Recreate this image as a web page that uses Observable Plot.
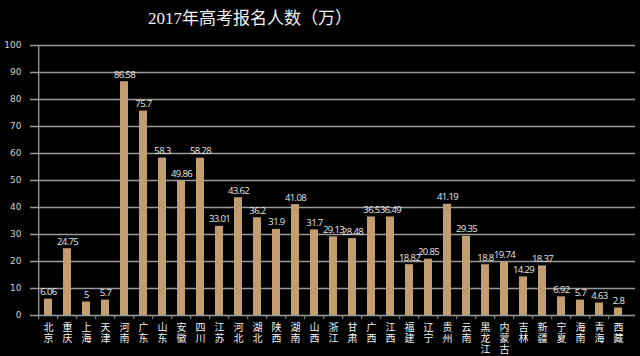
<!DOCTYPE html>
<html>
<head>
<meta charset="utf-8">
<script src="https://cdn.jsdelivr.net/npm/d3@7"></script>
<script src="https://cdn.jsdelivr.net/npm/@observablehq/plot@0.6"></script>
<style>
  html, body { margin: 0; padding: 0; background: #000; }
  #wrap { width: 640px; height: 356px; background: #000; overflow: hidden; }
  #title { height: 35px; width: 500px; text-align: center; color: #f2f2f2;
    font-family: "Liberation Serif", "Noto Sans CJK SC", serif; font-size: 17px; line-height: 37px; }
  .vlabels text { letter-spacing: -0.6px; }
  .xlabels text { writing-mode: vertical-rl; text-orientation: upright; letter-spacing: 0.6px; }
</style>
</head>
<body>
<div id="wrap">
  <div id="title">2017年高考报名人数（万）</div>
  <div id="chart"></div>
</div>
<script>
const provinces = ["北京","重庆","上海","天津","河南","广东","山东","安徽","四川","江苏","河北","湖北","陕西","湖南","山西","浙江","甘肃","广西","江西","福建","辽宁","贵州","云南","黑龙江","内蒙古","吉林","新疆","宁夏","海南","青海","西藏"];
const applicants = [6.06,24.75,5,5.7,86.58,75.7,58.3,49.86,58.28,33.01,43.62,36.2,31.9,41.08,31.7,29.13,28.48,36.5,36.49,18.82,20.85,41.19,29.35,18.8,19.74,14.29,18.37,6.92,5.7,4.63,2.8];
const yTicks = [0,10,20,30,40,50,60,70,80,90,100];

const data = provinces.map((p, i) => ({province: p, value: applicants[i]}));

const W = 640, ML = 30, MR = 5;
const step = (W - ML - MR) / provinces.length;

const chart = Plot.plot({
  width: W,
  height: 321,
  marginTop: 10,
  marginBottom: 41,
  marginLeft: ML,
  marginRight: MR,
  style: {background: "#000", color: "#ccc", overflow: "visible"},
  x: {domain: provinces, padding: 0.58, axis: null},
  y: {domain: [0, 100], ticks: yTicks, axis: null},
  marks: [
    Plot.gridY(yTicks.slice(1), {stroke: "#9a9a9a", strokeOpacity: 1, strokeWidth: 1.3}),
    Plot.axisY(yTicks, {tickSize: 0, tickPadding: 9, label: null, fontSize: 9, fill: "#d0d0d0", fontFamily: "DejaVu Sans, sans-serif"}),
    Plot.barY(data, {x: "province", y: "value", fill: "#c29d70"}),
    Plot.ruleX([provinces[0]], {y1: 0, y2: 100, dx: -step / 2, stroke: "#9a9a9a", strokeWidth: 1.3}),
    Plot.ruleY([0], {stroke: "#9a9a9a", strokeWidth: 1.3}),
    Plot.axisX(provinces, {tickSize: 4, label: null, tickFormat: () => "", dx: -step / 2, stroke: "#9a9a9a"}),
    Plot.text(data, {x: "province", y: "value", text: d => String(d.value), dy: -7, className: "vlabels", fill: "#e8e8e8", fontSize: 9.5, fontFamily: "Open Sans, sans-serif"}),
    Plot.text(data, {x: "province", y: 0, text: "province", textAnchor: "start", lineAnchor: "middle", dy: 4, className: "xlabels", fill: "#f4f4f4", fontSize: 10, fontFamily: "Noto Sans CJK SC, sans-serif"})
  ]
});
// drop the empty tick-label texts of the boundary-tick axis
chart.querySelectorAll('[aria-label="x-axis tick label"]').forEach(g => g.remove());
document.getElementById("chart").appendChild(chart);
</script>
</body>
</html>
